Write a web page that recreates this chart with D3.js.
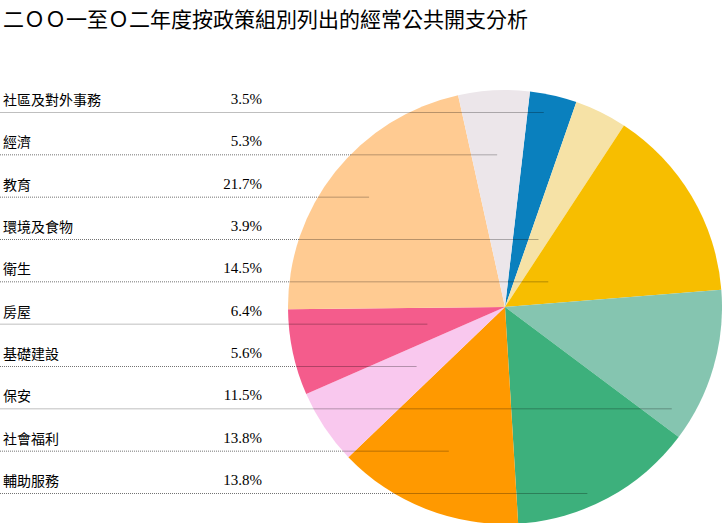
<!DOCTYPE html>
<html>
<head>
  <meta charset="utf-8">
  <script src="https://cdnjs.cloudflare.com/ajax/libs/d3/7.8.5/d3.min.js"></script>
  <style>
    body { margin: 0; background: #fff; }
    svg { display: block; }
  </style>
</head>
<body>
<svg width="722" height="523"></svg>
<script>
// categories as listed on the left, top to bottom
var categories = ["社區及對外事務", "經濟", "教育", "環境及食物", "衛生",
                  "房屋", "基礎建設", "保安", "社會福利", "輔助服務"];
var shares     = [3.5, 5.3, 21.7, 3.9, 14.5, 6.4, 5.6, 11.5, 13.8, 13.8];
// order of the slices going clockwise round the pie
var pieOrder   = ["社區及對外事務", "環境及食物", "衛生", "保安", "輔助服務",
                  "社會福利", "基礎建設", "房屋", "教育", "經濟"];

var title = "二ＯＯ一至Ｏ二年度按政策組別列出的經常公共開支分析";

var colors = ["#0A80BE", "#F6E2A6", "#F7BE00", "#85C5B0", "#3DB07C",
              "#FF9900", "#F9C8EE", "#F45C8C", "#FFCB92", "#ECE6EA"];
var solidRows = ["社區及對外事務", "房屋", "保安"];

var svg = d3.select("svg");
var cjk = "'Noto Sans CJK TC', 'Noto Sans CJK SC', sans-serif";

var rows = categories.map((c, i) => ({ name: c, value: shares[i], i: i }));
var byName = {};
rows.forEach(d => byName[d.name] = d);

var color = d3.scaleOrdinal().domain(pieOrder).range(colors);

// pie geometry
var cx = 505, cy = 307, r = 217;
var start = 6.6 * Math.PI / 180;
var pie = d3.pie()
  .sort(null)
  .value(d => d.value)
  .startAngle(start)
  .endAngle(start + 2 * Math.PI);
var arc = d3.arc().innerRadius(0).outerRadius(r);

var arcs = pie(pieOrder.map(n => byName[n]));
var arcByName = {};
arcs.forEach(a => arcByName[a.data.name] = a);

var g = svg.append("g").attr("transform", "translate(" + cx + "," + cy + ")");
g.selectAll(".slice")
  .data(arcs)
  .enter().append("path")
    .attr("class", "slice")
    .attr("d", arc)
    .attr("fill", d => color(d.data.name));

// rows on the left
var y = d3.scaleLinear().domain([0, categories.length - 1]).range([112, 493]);

// leader lines: run along the row line until it meets the slice's middle ray
function lineEnd(d) {
  var a = arcByName[d.name];
  var mid = (a.startAngle + a.endAngle) / 2;
  var dx = Math.sin(mid), dy = -Math.cos(mid);
  var ly = y(d.i) - cy;
  var t = Math.abs(dy) > 1e-6 ? ly / dy : r;
  if (!(t > 0) || t > r * 0.8) t = r * 0.8;
  var x = cx + dx * t;
  var edge = cx - Math.sqrt(Math.max(0, r * r - ly * ly));
  return { x: x, edge: Math.min(edge, x) };
}

var lines = svg.append("g");
rows.forEach(d => {
  var e = lineEnd(d);
  var solid = solidRows.indexOf(d.name) >= 0;
  lines.append("line")
    .attr("x1", 0).attr("x2", e.edge)
    .attr("y1", y(d.i) + 0.5).attr("y2", y(d.i) + 0.5)
    .attr("stroke", solid ? "rgba(0,0,0,0.25)" : "rgba(0,0,0,0.55)")
    .attr("stroke-dasharray", solid ? null : "1,1");
  lines.append("line")
    .attr("x1", e.edge).attr("x2", e.x)
    .attr("y1", y(d.i) + 0.5).attr("y2", y(d.i) + 0.5)
    .attr("stroke", "rgba(0,0,0,0.28)");
});

svg.selectAll(".label")
  .data(rows)
  .enter().append("text")
    .attr("class", "label")
    .attr("x", 3)
    .attr("y", d => y(d.i) - 13)
    .attr("dominant-baseline", "central")
    .style("font-family", cjk)
    .style("font-size", "14px")
    .style("fill", "#000")
    .text(d => d.name);

svg.selectAll(".value")
  .data(rows)
  .enter().append("text")
    .attr("class", "value")
    .attr("x", 262)
    .attr("y", d => y(d.i) - 8)
    .attr("text-anchor", "end")
    .style("font-family", "'Liberation Serif', 'Times New Roman', serif")
    .style("font-size", "15px")
    .style("fill", "#000")
    .text(d => d.value.toFixed(1) + "%");

svg.append("text")
  .attr("x", 3)
  .attr("y", 18)
  .attr("dominant-baseline", "central")
  .style("font-family", cjk)
  .style("font-size", "21px")
  .style("fill", "#000")
  .text(title);
</script>
</body>
</html>
